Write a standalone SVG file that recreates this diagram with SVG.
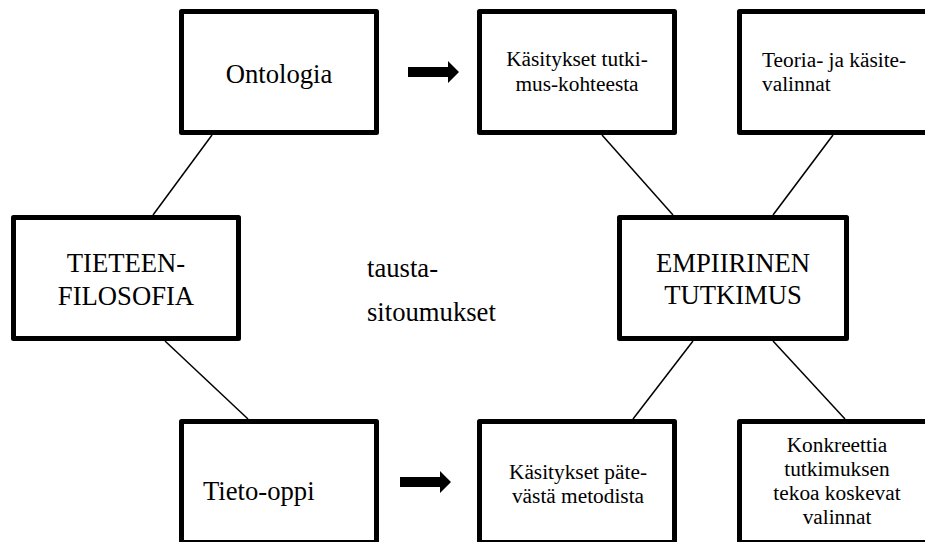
<svg xmlns="http://www.w3.org/2000/svg" width="925" height="542" viewBox="0 0 925 542">
<style>
.box{fill:#fff;stroke:#000;stroke-width:5;stroke-linejoin:round}
.conn line{stroke:#000;stroke-width:1.5}
.arrow{fill:#000}
text{fill:#000;font-family:"Liberation Serif","Times New Roman",serif}
.big{font-size:26.67px}
.small{font-size:21.33px}
.c{text-anchor:middle}
</style>
<rect width="925" height="542" fill="#fff"/>
<g id="connectors" class="conn">
<line x1="212" y1="135" x2="153" y2="215"/>
<line x1="165" y1="341" x2="248" y2="419"/>
<line x1="602" y1="135" x2="673" y2="215"/>
<line x1="833" y1="135" x2="773" y2="215"/>
<line x1="693" y1="341" x2="633" y2="419"/>
<line x1="773" y1="341" x2="845" y2="419"/>
<polygon class="arrow" points="408,67 448,67 448,61 459,72 448,83 448,77 408,77"/>
<polygon class="arrow" points="400,477 440,477 440,471 451,482 440,493 440,487 400,487"/>
</g>
<g id="ontologia">
<rect class="box" x="181.5" y="11.5" width="195" height="121"/>
<text class="big c" x="279" y="83">Ontologia</text>
</g>
<g id="kasitykset-kohde">
<rect class="box" x="479.5" y="11.5" width="195" height="121"/>
<text class="small c" x="577" y="66">Käsitykset tutki-</text>
<text class="small c" x="577" y="91">mus-kohteesta</text>
</g>
<g id="teoria">
<rect class="box" x="739.5" y="11.5" width="215" height="121"/>
<text class="small" x="762" y="67">Teoria- ja käsite-</text>
<text class="small" x="762" y="91">valinnat</text>
</g>
<g id="tieteenfilosofia">
<rect class="box" x="13.5" y="217.5" width="225" height="121"/>
<text class="big c" x="126" y="272">TIETEEN-</text>
<text class="big c" x="126" y="305">FILOSOFIA</text>
</g>
<g id="taustasitoumukset">
<text class="big" x="367" y="277">tausta-</text>
<text class="big" x="367" y="321">sitoumukset</text>
</g>
<g id="empiirinen">
<rect class="box" x="619.5" y="217.5" width="227" height="121"/>
<text class="big c" x="733" y="272">EMPIIRINEN</text>
<text class="big c" x="733" y="304">TUTKIMUS</text>
</g>
<g id="tieto-oppi">
<rect class="box" x="181.5" y="421.5" width="195" height="121"/>
<text class="big" x="203" y="500">Tieto-oppi</text>
</g>
<g id="kasitykset-metodi">
<rect class="box" x="479.5" y="421.5" width="195" height="121"/>
<text class="small c" x="578" y="479">Käsitykset päte-</text>
<text class="small c" x="578" y="503">västä metodista</text>
</g>
<g id="konkreettia">
<rect class="box" x="739.5" y="421.5" width="215" height="121"/>
<text class="small c" x="837" y="452">Konkreettia</text>
<text class="small c" x="837" y="476">tutkimuksen</text>
<text class="small c" x="837" y="500">tekoa koskevat</text>
<text class="small c" x="837" y="524">valinnat</text>
</g>
</svg>
